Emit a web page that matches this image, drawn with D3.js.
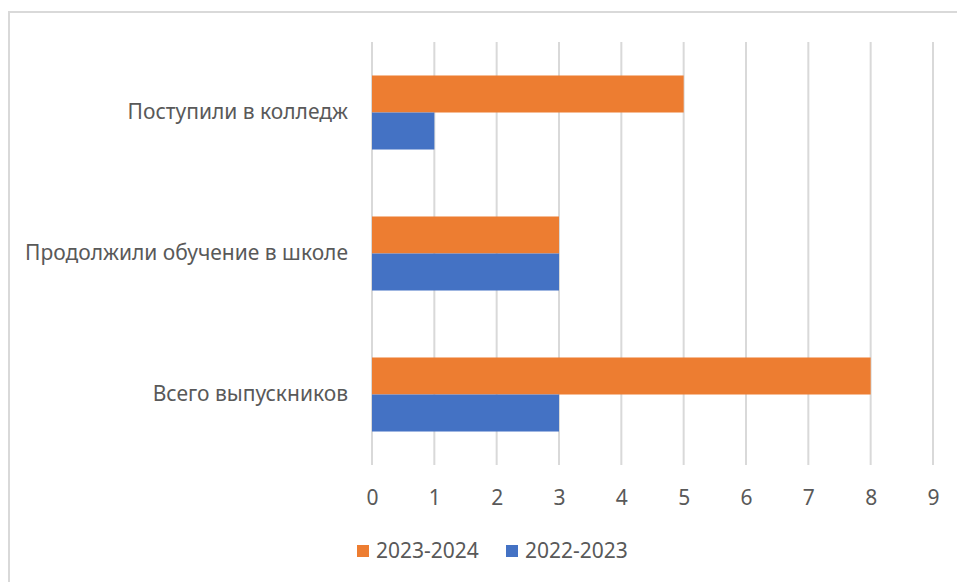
<!DOCTYPE html>
<html><head><meta charset="utf-8">
<script src="https://cdn.jsdelivr.net/npm/d3@7/dist/d3.min.js"></script>
<style>
html,body{margin:0;padding:0;background:#fff;}
svg text{font-family:"Noto Sans","Open Sans",sans-serif;fill:#595959;}
</style></head>
<body>
<svg id="chart" width="957" height="582"></svg>
<script>
const categories = ["Поступили в колледж", "Продолжили обучение в школе", "Всего выпускников"];
const seriesNames = ["2023-2024", "2022-2023"];
const values2023_2024 = [5, 3, 8];
const values2022_2023 = [1, 3, 3];
const xTicks = [0,1,2,3,4,5,6,7,8,9];
const colors = ["#ED7D31", "#4472C4"];

const seriesValues = [values2023_2024, values2022_2023];
const data = categories.map((c, i) => ({cat: c, vals: seriesNames.map((s, j) => ({series: s, value: seriesValues[j][i]}))}));

const svg = d3.select("#chart");
const W = 957, H = 582;
const m = {left: 372, right: 24, top: 42, bottom: 117};
const FS = "21px";

// outer border
svg.append("rect").attr("x", 9).attr("y", 12).attr("width", W + 20).attr("height", H + 20)
  .attr("fill", "none").attr("stroke", "#d9d9d9").attr("stroke-width", 2);

const x = d3.scaleLinear().domain([0, 9]).range([m.left, 933]);
const y = d3.scaleBand().domain(categories).range([m.top, H - m.bottom]).paddingInner(0.475).paddingOuter(0.2375);
const y1 = d3.scaleBand().domain(seriesNames).range([0, y.bandwidth()]);

// gridlines
svg.append("g").selectAll("line").data(xTicks).join("line")
  .attr("x1", d => x(d)).attr("x2", d => x(d))
  .attr("y1", m.top).attr("y2", H - m.bottom)
  .attr("stroke", "#d9d9d9").attr("stroke-width", 2);

// bars
const g = svg.append("g").selectAll("g").data(data).join("g")
  .attr("transform", d => `translate(0,${y(d.cat)})`);
g.selectAll("rect").data(d => d.vals).join("rect")
  .attr("x", x(0)).attr("y", d => y1(d.series))
  .attr("width", d => x(d.value) - x(0)).attr("height", y1.bandwidth())
  .attr("fill", (d, i) => colors[i]);

// x axis labels
const xAxis = d3.axisBottom(x).tickValues(xTicks).tickSize(0).tickPadding(0).tickFormat(d3.format("d"));
const xa = svg.append("g").attr("transform", `translate(0,${H - m.bottom})`).call(xAxis);
xa.select(".domain").remove();
xa.selectAll("text").attr("dy", null).attr("y", 40).style("font-size", FS).attr("fill", "#595959");

// y axis labels
const yAxis = d3.axisLeft(y).tickSize(0).tickPadding(24);
const ya = svg.append("g").attr("transform", `translate(${x(0)},0)`).call(yAxis);
ya.select(".domain").remove();
ya.selectAll("text").style("font-size", FS).attr("fill", "#595959");

// legend
const legX = [357, 506];
const leg = svg.append("g").selectAll("g").data(seriesNames).join("g")
  .attr("transform", (d, i) => `translate(${legX[i]},545)`);
leg.append("rect").attr("width", 12).attr("height", 12).attr("fill", (d, i) => colors[i]);
leg.append("text").attr("x", 19).attr("y", 6).attr("dy", "0.35em").style("font-size", FS).text(d => d);
</script>
</body></html>
